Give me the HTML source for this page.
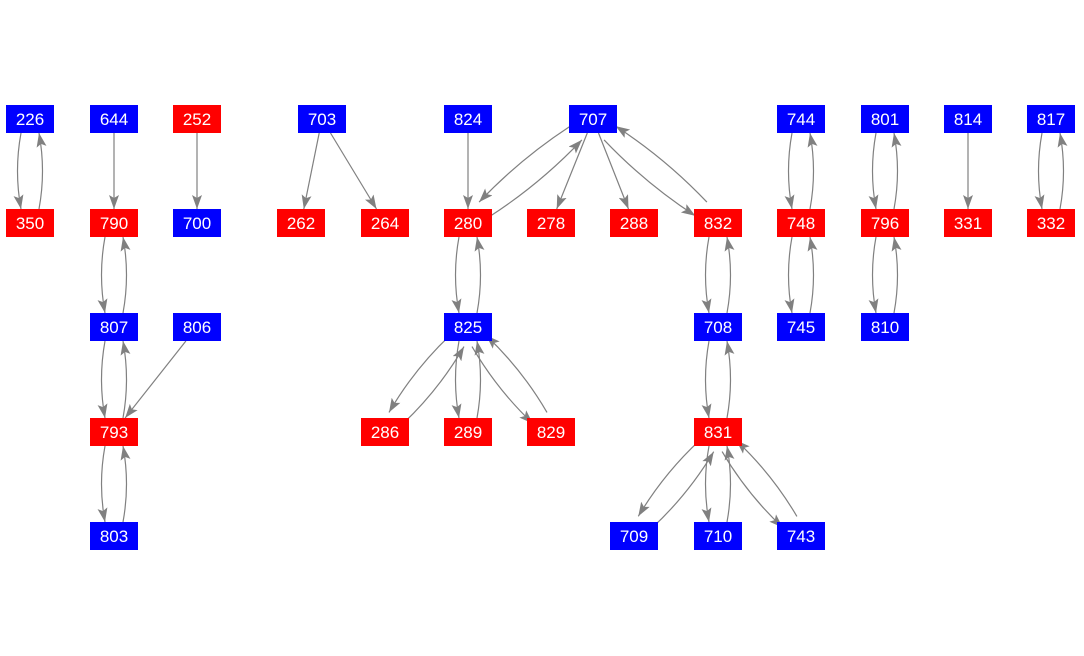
<!DOCTYPE html>
<html><head><meta charset="utf-8"><style>
html,body{margin:0;padding:0;background:#fff;}
svg{display:block;}
text{font-family:"Liberation Sans",sans-serif;font-size:17px;fill:#fff;text-anchor:middle;}
</style></head><body>
<svg id="s" width="1084" height="656" viewBox="0 0 1084 656">
<defs><marker id="a" viewBox="0 0 14 10" refX="14" refY="5" markerWidth="14" markerHeight="10" markerUnits="userSpaceOnUse" orient="auto"><path d="M0,0 L14,5 L0,10 L3,5 Z" fill="#808080"/></marker></defs>
<g id="e"></g>
<g id="n">
<rect x="6" y="105" width="48" height="28" fill="#0000ff"/><text x="30" y="125">226</text>
<rect x="90" y="105" width="48" height="28" fill="#0000ff"/><text x="114" y="125">644</text>
<rect x="173" y="105" width="48" height="28" fill="#ff0000"/><text x="197" y="125">252</text>
<rect x="298" y="105" width="48" height="28" fill="#0000ff"/><text x="322" y="125">703</text>
<rect x="444" y="105" width="48" height="28" fill="#0000ff"/><text x="468" y="125">824</text>
<rect x="569" y="105" width="48" height="28" fill="#0000ff"/><text x="593" y="125">707</text>
<rect x="777" y="105" width="48" height="28" fill="#0000ff"/><text x="801" y="125">744</text>
<rect x="861" y="105" width="48" height="28" fill="#0000ff"/><text x="885" y="125">801</text>
<rect x="944" y="105" width="48" height="28" fill="#0000ff"/><text x="968" y="125">814</text>
<rect x="1027" y="105" width="48" height="28" fill="#0000ff"/><text x="1051" y="125">817</text>
<rect x="6" y="209" width="48" height="28" fill="#ff0000"/><text x="30" y="229">350</text>
<rect x="90" y="209" width="48" height="28" fill="#ff0000"/><text x="114" y="229">790</text>
<rect x="173" y="209" width="48" height="28" fill="#0000ff"/><text x="197" y="229">700</text>
<rect x="277" y="209" width="48" height="28" fill="#ff0000"/><text x="301" y="229">262</text>
<rect x="361" y="209" width="48" height="28" fill="#ff0000"/><text x="385" y="229">264</text>
<rect x="444" y="209" width="48" height="28" fill="#ff0000"/><text x="468" y="229">280</text>
<rect x="527" y="209" width="48" height="28" fill="#ff0000"/><text x="551" y="229">278</text>
<rect x="610" y="209" width="48" height="28" fill="#ff0000"/><text x="634" y="229">288</text>
<rect x="694" y="209" width="48" height="28" fill="#ff0000"/><text x="718" y="229">832</text>
<rect x="777" y="209" width="48" height="28" fill="#ff0000"/><text x="801" y="229">748</text>
<rect x="861" y="209" width="48" height="28" fill="#ff0000"/><text x="885" y="229">796</text>
<rect x="944" y="209" width="48" height="28" fill="#ff0000"/><text x="968" y="229">331</text>
<rect x="1027" y="209" width="48" height="28" fill="#ff0000"/><text x="1051" y="229">332</text>
<rect x="90" y="313" width="48" height="28" fill="#0000ff"/><text x="114" y="333">807</text>
<rect x="173" y="313" width="48" height="28" fill="#0000ff"/><text x="197" y="333">806</text>
<rect x="444" y="313" width="48" height="28" fill="#0000ff"/><text x="468" y="333">825</text>
<rect x="694" y="313" width="48" height="28" fill="#0000ff"/><text x="718" y="333">708</text>
<rect x="777" y="313" width="48" height="28" fill="#0000ff"/><text x="801" y="333">745</text>
<rect x="861" y="313" width="48" height="28" fill="#0000ff"/><text x="885" y="333">810</text>
<rect x="90" y="418" width="48" height="28" fill="#ff0000"/><text x="114" y="438">793</text>
<rect x="361" y="418" width="48" height="28" fill="#ff0000"/><text x="385" y="438">286</text>
<rect x="444" y="418" width="48" height="28" fill="#ff0000"/><text x="468" y="438">289</text>
<rect x="527" y="418" width="48" height="28" fill="#ff0000"/><text x="551" y="438">829</text>
<rect x="694" y="418" width="48" height="28" fill="#ff0000"/><text x="718" y="438">831</text>
<rect x="90" y="522" width="48" height="28" fill="#0000ff"/><text x="114" y="542">803</text>
<rect x="610" y="522" width="48" height="28" fill="#0000ff"/><text x="634" y="542">709</text>
<rect x="694" y="522" width="48" height="28" fill="#0000ff"/><text x="718" y="542">710</text>
<rect x="777" y="522" width="48" height="28" fill="#0000ff"/><text x="801" y="542">743</text>
</g>
</svg>
<script>
var P={226:[30,119],644:[114,119],252:[197,119],703:[322,119],824:[468,119],707:[593,119],744:[801,119],801:[885,119],814:[968,119],817:[1051,119],
350:[30,223],790:[114,223],700:[197,223],262:[301,223],264:[385,223],280:[468,223],278:[551,223],288:[634,223],832:[718,223],748:[801,223],796:[885,223],331:[968,223],332:[1051,223],
807:[114,327],806:[197,327],825:[468,327],708:[718,327],745:[801,327],810:[885,327],
793:[114,432],286:[385,432],289:[468,432],829:[551,432],831:[718,432],
803:[114,536],709:[634,536],710:[718,536],743:[801,536]};
var single=[[644,790],[252,700],[703,262],[703,264],[824,280],[707,278],[707,288],[806,793],[814,331]];
var pairs=[[226,350],[707,280],[707,832],[280,825],[825,286],[825,289],[825,829],[832,708],[708,831],[831,709],[831,710],[831,743],[790,807],[807,793],[793,803],[744,748],[748,745],[801,796],[796,810],[817,332]];
var g=document.getElementById('e'),h='';
function clip(c,dx,dy,sign){var t=Math.min(dx?24/Math.abs(dx):1e9,dy?14/Math.abs(dy):1e9);return [c[0]+sign*dx*t,c[1]+sign*dy*t];}
function edge(a,b,d,bu){var A=P[a],B=P[b];var dx=B[0]-A[0],dy=B[1]-A[1],L=Math.hypot(dx,dy);var px=-dy/L,py=dx/L;
var a0=[A[0]+px*d,A[1]+py*d],b0=[B[0]+px*d,B[1]+py*d];
var s=clip(a0,dx,dy,1),e=clip(b0,dx,dy,-1);
var mx=(s[0]+e[0])/2+px*bu,my=(s[1]+e[1])/2+py*bu;
h+='<path d="M'+s[0].toFixed(1)+','+s[1].toFixed(1)+' Q'+mx.toFixed(1)+','+my.toFixed(1)+' '+e[0].toFixed(1)+','+e[1].toFixed(1)+'" fill="none" stroke="#808080" stroke-width="1.2" marker-end="url(#a)"/>';}
single.forEach(function(x){edge(x[0],x[1],0,0);});
pairs.forEach(function(x){edge(x[0],x[1],9,7);edge(x[1],x[0],9,7);});
g.innerHTML=h;
</script>
</body></html>
